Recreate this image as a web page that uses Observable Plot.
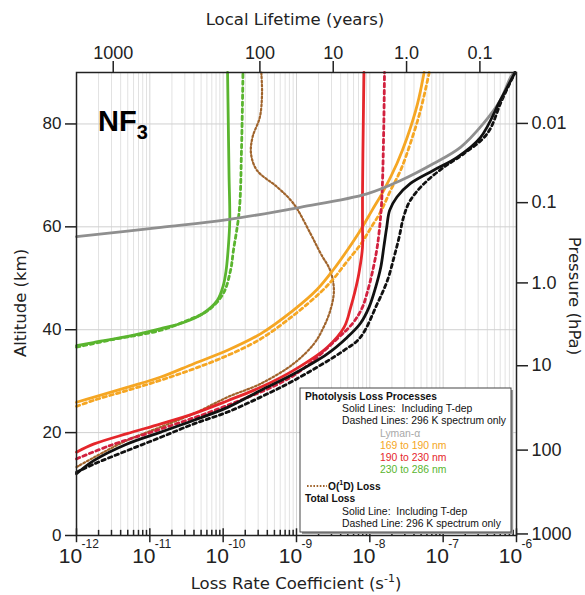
<!DOCTYPE html>
<html><head><meta charset="utf-8">
<script src="https://cdn.jsdelivr.net/npm/d3@7"></script>
<script src="https://cdn.jsdelivr.net/npm/@observablehq/plot@0.6"></script>
<style>body{margin:0;background:#fff} svg{display:block}</style>
</head><body><div id="chart"></div>
<script>
// ---- data: altitude (km) and log10 of loss rate coefficient (s^-1) ----
const lymanAlt      = [58.1, 59.9, 61.4, 63.8, 66.4, 69.0, 72.3, 75.5, 80.1, 84.6, 89.1, 90];
const lymanLogK     = [-12.0, -10.85, -9.94, -8.95, -8.04, -7.58, -7.13, -6.76, -6.45, -6.22, -6.08, -6.03];

const orangeAlt     = [25.9, 26.9, 28.8, 30.8, 33.4, 36.0, 39.2, 43.8, 47.8, 51.8, 55.4, 59.3, 63.2, 67.1, 72.3, 77.4, 83.9, 90];
const orangeLogK    = [-12.0, -11.76, -11.31, -10.85, -10.40, -9.94, -9.49, -9.04, -8.72, -8.49, -8.31, -8.13, -7.97, -7.81, -7.63, -7.49, -7.35, -7.26];
const orangeDAlt    = [25.1, 26.3, 28.2, 30.2, 32.4, 35.0, 38.2, 42.8, 47.3, 50.0, 53.3, 56.5, 59.7, 63.0, 67.0, 71.0, 76.1, 82.6, 90];
const orangeDLogK   = [-12.0, -11.76, -11.31, -10.85, -10.40, -9.94, -9.49, -9.04, -8.67, -8.49, -8.31, -8.13, -7.99, -7.85, -7.72, -7.58, -7.45, -7.31, -7.19];

const redAlt        = [16.2, 17.8, 19.8, 21.7, 23.7, 26.2, 28.8, 32.1, 36.6, 40.5, 44.4, 47.6, 50.9, 56.0, 59.9, 66.4, 79.4, 90];
const redLogK       = [-12.0, -11.76, -11.31, -10.85, -10.40, -9.94, -9.49, -9.04, -8.58, -8.35, -8.26, -8.20, -8.15, -8.10, -8.10, -8.10, -8.09, -8.08];
const redDAlt       = [14.9, 17.5, 20.7, 25.3, 31.1, 37.9, 41.5, 44.4, 47.0, 50.9, 56.0, 62.5, 67.7, 79.4, 90];
const redDLogK      = [-12.0, -11.54, -10.85, -9.94, -9.04, -8.47, -8.22, -8.10, -8.04, -7.97, -7.90, -7.85, -7.83, -7.81, -7.80];

const greenAlt      = [36.9, 37.5, 38.7, 40.2, 41.4, 43.2, 45.7, 48.5, 51.5, 56.0, 61.2, 70.0, 80.0, 90];
const greenLogK     = [-12.0, -11.77, -11.30, -10.85, -10.54, -10.27, -10.08, -10.0, -9.96, -9.93, -9.91, -9.92, -9.93, -9.94];
const greenDAlt     = [36.6, 38.0, 39.9, 41.8, 43.7, 47.0, 51.5, 55.4, 63.2, 75.0, 90];
const greenDLogK    = [-12.0, -11.54, -10.85, -10.49, -10.21, -10.0, -9.90, -9.86, -9.78, -9.75, -9.73];

const o1dAlt        = [13.3, 15.2, 18.5, 21.1, 23.7, 26.9, 29.5, 33.4, 37.3, 40.5, 43.7, 47.6, 51.5, 54.8, 58.7, 64.5, 67.7, 71.0, 74.2, 77.4, 81.3, 85.9, 90];
const o1dLogK       = [-12.0, -11.76, -11.31, -10.85, -10.40, -9.94, -9.49, -9.04, -8.76, -8.63, -8.54, -8.49, -8.54, -8.67, -8.81, -9.04, -9.26, -9.54, -9.62, -9.60, -9.50, -9.47, -9.48];

const totalAlt      = [12.0, 14.6, 17.8, 20.1, 22.4, 24.9, 28.2, 31.4, 35.3, 38.5, 41.2, 44.4, 48.3, 52.2, 56.0, 59.9, 63.2, 65.8, 68.4, 71.0, 73.5, 77.4, 84.6, 90];
const totalLogK     = [-12.0, -11.76, -11.31, -10.85, -10.40, -9.94, -9.49, -9.04, -8.58, -8.31, -8.13, -8.01, -7.92, -7.85, -7.81, -7.77, -7.73, -7.63, -7.45, -7.13, -6.81, -6.49, -6.22, -6.02];
const totalDAlt     = [12.3, 13.9, 16.5, 19.1, 21.7, 24.0, 26.9, 30.1, 36.0, 38.5, 45.0, 49.6, 54.1, 58.0, 61.9, 65.1, 68.4, 71.6, 74.2, 78.1, 84.6, 90];
const totalDLogK    = [-12.0, -11.76, -11.31, -10.85, -10.40, -9.94, -9.49, -9.04, -8.35, -8.13, -7.90, -7.76, -7.67, -7.60, -7.54, -7.45, -7.26, -6.99, -6.72, -6.40, -6.20, -6.02];

// ---- axes values ----
const altTicks      = [0, 20, 40, 60, 80];
const decadeExps    = [-12, -11, -10, -9, -8, -7, -6];
const lifetimeYears = [10000, 100, 10, 1, 0.1];
const lifetimeLabels= ["1000", "100", "10", "1.0", "0.1"];
const pressureAlt   = [0.3, 16.6, 33.0, 49.1, 64.7, 80.1];
const pressureLabels= ["1000", "100", "10", "1.0", "0.1", "0.01"];

// ---- colours ----
const C = {lyman:"#8f8f8f", orange:"#f5a623", red:"#e5262b", redD:"#d2213f", green:"#5ab52f", o1d:"#a0642c", total:"#111"};

const SEC_PER_YEAR = 3.156e7;
const mk = (alt, lk) => alt.map((a, i) => ({alt: a, k: Math.pow(10, lk[i])}));

const decades = decadeExps.map(e => Math.pow(10, e));
const minors = [];
for (const e of decadeExps.slice(0, -1)) for (let m = 2; m <= 9; m++) minors.push(m * Math.pow(10, e));
const topTicks = lifetimeYears.map((y, i) => ({k: 1 / (y * SEC_PER_YEAR), label: lifetimeLabels[i]}));
const pLabel = d => {
  const i = pressureAlt.findIndex(a => Math.abs(a - d) < 1e-6);
  return i < 0 ? "" : pressureLabels[i];
};

const FONT = "Liberation Sans, Arial, Helvetica, sans-serif";
const TFONT = "DejaVu Sans, Verdana, sans-serif";
const dash = "3.5,3.5";
const line = (data, stroke, dashed, w = 2.8) => Plot.line(data, {x: "k", y: "alt", stroke, strokeWidth: w, curve: "catmull-rom", strokeDasharray: dashed ? dash : null});

const chart = Plot.plot({
  width: 585, height: 595,
  marginLeft: 76, marginRight: 69, marginTop: 72, marginBottom: 60,
  style: {fontFamily: FONT, background: "#fff", color: "#222"},
  x: {type: "log", domain: [1e-12, 1e-6]},
  y: {domain: [0, 90]},
  marks: [
    Plot.ruleX(minors, {stroke: "#e2e2e2", strokeWidth: 1}),
    Plot.ruleX(decades.slice(1, -1), {stroke: "#d6d6d6", strokeWidth: 1}),
    Plot.ruleY(altTicks.slice(1), {stroke: "#d0d0d0", strokeWidth: 1}),
    line(mk(greenAlt, greenLogK), C.green, false),
    line(mk(greenDAlt, greenDLogK), C.green, true),
    Plot.line(mk(o1dAlt, o1dLogK), {x: "k", y: "alt", stroke: C.o1d, strokeWidth: 2.2, curve: "catmull-rom", strokeDasharray: "1.8,2.2"}),
    line(mk(orangeAlt, orangeLogK), C.orange, false),
    line(mk(orangeDAlt, orangeDLogK), C.orange, true),
    line(mk(redAlt, redLogK), C.red, false),
    line(mk(redDAlt, redDLogK), C.redD, true),
    line(mk(totalDAlt, totalDLogK), C.total, true),
    line(mk(lymanAlt, lymanLogK), C.lyman, false),
    line(mk(totalAlt, totalLogK), C.total, false),
    Plot.frame({stroke: "#222", strokeWidth: 1.5}),
    // bottom ticks
    Plot.ruleX(minors, {y1: 0, y2: 1.0, stroke: "#222", strokeWidth: 1.5}),
    Plot.ruleX(decades, {y1: -1.4, y2: 1.3, stroke: "#222", strokeWidth: 1.5}),
    Plot.axisX({anchor: "bottom", ticks: decades, tickSize: 0, tickPadding: 13, tickFormat: () => "10", fontSize: 21, dx: -6, label: null}),
    Plot.axisX({anchor: "bottom", ticks: decades, tickSize: 0, tickPadding: 4, tickFormat: d => String(Math.round(Math.log10(d))), fontSize: 12, dx: 5, textAnchor: "start", label: null}),
    // top axis (lifetime)
    Plot.axisX({anchor: "top", ticks: topTicks.map(d => d.k), tickSize: 12, tickFormat: () => "", label: null, strokeWidth: 1.5}),
    Plot.text(topTicks, {x: "k", text: "label", frameAnchor: "top", dy: -26, fontSize: 18, fill: "#222"}),
    // left axis
    Plot.axisY({anchor: "left", ticks: altTicks, tickSize: 11, tickPadding: 4, fontSize: 17, label: null, strokeWidth: 1.5}),
    // right axis (pressure)
    Plot.axisY({anchor: "right", ticks: pressureAlt, tickSize: 11, tickPadding: 4, tickFormat: pLabel, fontSize: 18, label: null, strokeWidth: 1.5})
  ]
});

const svg = d3.select(chart);
svg.attr("font-family", FONT);
const txt = (x, y, s, size, opts = {}) => {
  const t = svg.append("text").attr("x", x).attr("y", y).attr("font-size", size)
    .attr("font-family", opts.font || FONT).attr("fill", opts.fill || "#222")
    .attr("text-anchor", opts.anchor || "start").attr("font-weight", opts.weight || "normal");
  if (opts.rotate) t.attr("transform", `rotate(${opts.rotate},${x},${y})`);
  t.text(s);
  return t;
};
// titles
txt(295, 25, "Local Lifetime (years)", 16.5, {anchor: "middle", font: TFONT});
txt(26, 303, "Altitude (km)", 16.5, {anchor: "middle", rotate: -90, font: TFONT});
txt(569, 296, "Pressure (hPa)", 16.5, {anchor: "middle", rotate: 90, font: TFONT});
const bt = txt(296, 589, "Loss Rate Coefficient (s", 16.5, {anchor: "middle", font: TFONT});
bt.append("tspan").attr("dy", -7).attr("font-size", 11).text("-1");
bt.append("tspan").attr("dy", 7).text(")");
// compound label
const nf = txt(98, 131, "NF", 29, {weight: "bold", fill: "#000"});
nf.append("tspan").attr("dy", 8).attr("font-size", 20).text("3");

// legend box
const lg = svg.append("g").attr("text-anchor", "start");
lg.append("rect").attr("x", 302).attr("y", 390).attr("width", 211).attr("height", 144).attr("fill", "#999");
lg.append("rect").attr("x", 300).attr("y", 388).attr("width", 211).attr("height", 144).attr("fill", "#fff").attr("stroke", "#444").attr("stroke-width", 1);
const L = (y, s, opts = {}) => {
  const t = lg.append("text").attr("x", opts.x || 305).attr("y", y).attr("font-size", opts.size || 10.4)
    .attr("text-anchor", "start")
    .attr("font-family", FONT).attr("fill", opts.fill || "#111").attr("font-weight", opts.weight || "normal");
  t.text(s); return t;
};
L(400, "Photolysis Loss Processes", {weight: "bold", size: 10.2});
L(412, "Solid Lines:  Including T-dep", {x: 342});
L(424, "Dashed Lines: 296 K spectrum only", {x: 342});
L(437, "Lyman-\u03b1", {x: 380, fill: "#a8a8a8"});
L(449, "169 to 190 nm", {x: 380, fill: C.orange});
L(461, "190 to 230 nm", {x: 380, fill: C.red});
L(473, "230 to 286 nm", {x: 380, fill: C.green});
lg.append("line").attr("x1", 307).attr("x2", 327).attr("y1", 486).attr("y2", 486).attr("stroke", C.o1d).attr("stroke-width", 2).attr("stroke-dasharray", "1.6,1.6");
const od = L(490, "O(", {x: 328, weight: "bold", size: 10.2});
od.append("tspan").attr("dy", -5).attr("font-size", 7).text("1");
od.append("tspan").attr("dy", 5).text("D) Loss");
L(502, "Total Loss", {weight: "bold", size: 10.2});
L(515, "Solid Line:  Including T-dep", {x: 342});
L(527, "Dashed Line: 296 K spectrum only", {x: 342});

document.getElementById("chart").appendChild(chart);
</script>
</body></html>
